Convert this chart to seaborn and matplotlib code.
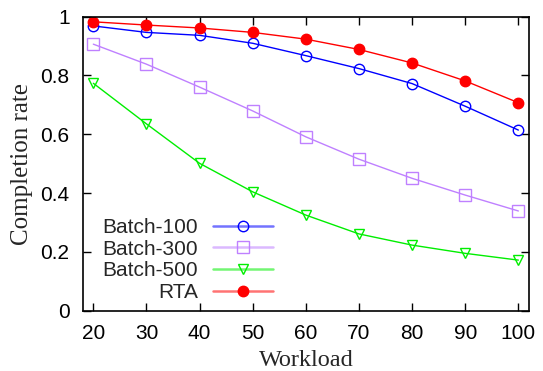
import matplotlib
matplotlib.use("Agg")
import matplotlib.pyplot as plt
import seaborn as sns
import pandas as pd

workload = [20, 30, 40, 50, 60, 70, 80, 90, 100]
batch100 = [0.968, 0.946, 0.936, 0.909, 0.867, 0.823, 0.772, 0.695, 0.614]
batch300 = [0.906, 0.838, 0.760, 0.679, 0.591, 0.515, 0.450, 0.393, 0.339]
batch500 = [0.773, 0.635, 0.501, 0.404, 0.325, 0.261, 0.223, 0.195, 0.172]
rta = [0.982, 0.971, 0.961, 0.946, 0.923, 0.888, 0.842, 0.781, 0.707]

series = [
    ("Batch-100", batch100, "#0000ff", "o", "none"),
    ("Batch-300", batch300, "#bf80ff", "s", "none"),
    ("Batch-500", batch500, "#00ee00", "v", "none"),
    ("RTA", rta, "#ff0000", "o", "#ff0000"),
]

sns.set_theme(style="ticks")
plt.rcParams["font.family"] = ["Liberation Sans", "DejaVu Sans"]

fig = plt.figure(figsize=(5.43, 3.71), dpi=100)
ax = fig.add_axes([0.1523, 0.1625, 0.9742 - 0.1523, 0.9555 - 0.1625])

for name, vals, col, mk, fc in series:
    df = pd.DataFrame({"Workload": workload, "rate": vals})
    sns.lineplot(data=df, x="Workload", y="rate", ax=ax, color=col, marker=mk,
                 markersize=7.5 if mk != "s" else 8, markerfacecolor=fc,
                 markeredgecolor=col, markeredgewidth=1.0, linewidth=1.0,
                 label=name)

ax.set_xlim(18, 102)
ax.set_ylim(0, 1)
ax.set_xticks(workload)
ax.set_xticklabels([str(w) for w in workload])
ax.set_yticks([0, 0.2, 0.4, 0.6, 0.8, 1.0])
ax.set_yticklabels(["0", "0.2", "0.4", "0.6", "0.8", "1"])
ax.tick_params(direction="in", length=5.5, width=1.0, top=True, right=True,
               labelsize=15, pad=9.5, colors="black")
for s in ax.spines.values():
    s.set_linewidth(1.2)
    s.set_color("black")

ax.set_xlabel("Workload", family="Liberation Serif", fontsize=17.5, labelpad=5)
ax.set_ylabel("Completion rate", family="Liberation Serif", fontsize=18, labelpad=5)

leg = ax.legend(loc="upper right", bbox_to_anchor=(0.4264, 0.315), frameon=False,
                markerfirst=False, fontsize=15, handlelength=2.9,
                handletextpad=0.7, labelspacing=0.13, borderpad=0,
                borderaxespad=0)
for line, (name, vals, col, mk, fc) in zip(leg.get_lines(), series):
    line.set_linewidth(1.8)
    line.set_color(matplotlib.colors.to_rgba(col, 0.55))
    line.set_markeredgecolor(col)
    line.set_markerfacecolor(fc)

fig.savefig("out.png", dpi=100)
